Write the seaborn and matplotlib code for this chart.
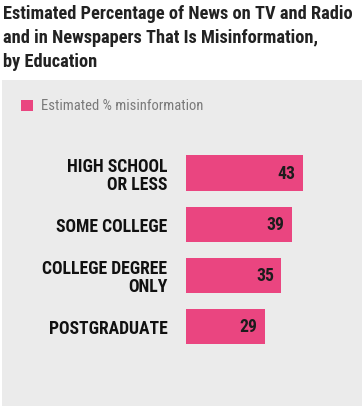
import matplotlib
matplotlib.use("Agg")
import matplotlib.pyplot as plt
import matplotlib.font_manager as fm
import seaborn as sns
import pandas as pd
from matplotlib.patches import Rectangle

# data
categories = ["HIGH SCHOOL\nOR LESS", "SOME COLLEGE", "COLLEGE DEGREE\nONLY", "POSTGRADUATE"]
misinfo_pct = [43, 39, 35, 29]
legend_label = "Estimated % misinformation"
title = "Estimated Percentage of News on TV and Radio\nand in Newspapers That Is Misinformation,\nby Education"

bar_color = "#ea4580"
panel_color = "#ebebeb"


def pick_font(cands):
    for c in cands:
        try:
            fm.findfont(fm.FontProperties(family=c), fallback_to_default=False)
            return c
        except Exception:
            pass
    return "DejaVu Sans"


main_font = pick_font(["Liberation Sans Narrow", "Roboto Condensed", "Open Sans Condensed",
                       "Roboto", "Liberation Sans"])

sns.set_theme(style="white")
plt.rcParams["font.family"] = [main_font, "DejaVu Sans"]

df = pd.DataFrame({"education": categories, "pct": misinfo_pct})

W, H = 364, 410
fig = plt.figure(figsize=(W / 100, H / 100), dpi=100)
fig.patch.set_facecolor("white")

# grey panel behind chart
fig.patches.append(Rectangle((2 / W, 1 - 407 / H), 360 / W, 326 / H,
                             transform=fig.transFigure, facecolor=panel_color,
                             edgecolor="none", zorder=-5))

# axes: x=0 at px 186, 2.71 px per unit
ax = fig.add_axes([186 / W, 1 - 353 / H, 162.6 / W, 204.5 / H])
ax.set_facecolor("none")

sns.barplot(data=df, x="pct", y="education", orient="h", color=bar_color,
            width=0.69, saturation=1, linewidth=0, ax=ax)
ax.set_xlim(0, 60)
ax.set_ylim(3.5, -0.5)

vals = []
for i, v in enumerate(misinfo_pct):
    t = ax.annotate(str(v), xy=(v, i), xytext=(-5, 0), textcoords="offset points",
                    ha="right", va="center", fontsize=12.5, fontweight="bold",
                    color="#1c1c1c")
    vals.append(t)

ax.set_xlabel("")
ax.set_ylabel("")
ax.set_xticks([])
ax.tick_params(axis="y", length=0, pad=13.5)
for lab in ax.get_yticklabels():
    lab.set_fontsize(12.5)
    lab.set_fontweight("bold")
    lab.set_color("#111111")
    lab.set_linespacing(1.0)
sns.despine(ax=ax, left=True, bottom=True)

# legend
fig.patches.append(Rectangle((21 / W, 1 - 112 / H), 12 / W, 11 / H,
                             transform=fig.transFigure, facecolor=bar_color,
                             edgecolor="none"))
leg = fig.text(41 / W, 1 - 106.5 / H, legend_label, ha="left", va="center",
               fontsize=9.5, color="#7a7a7a")

# title
ttl = fig.text(3 / W, 1 - 5 / H, title, ha="left", va="top", fontsize=12.5,
               fontweight="bold", color="#222222", linespacing=1.42)

# fit text widths to the reference (fonts here are wider than the original)
fig.canvas.draw()
r = fig.canvas.get_renderer()


def fit(txt, target, cap):
    w = txt.get_window_extent(r).width
    txt.set_fontsize(min(cap, txt.get_fontsize() * target / w))


fit(ttl, 350, 15)
fit(leg, 166, 10.5)
labs = ax.get_yticklabels()
w = max(l.get_window_extent(r).width for l in labs)
s = min(13.5, 12.5 * 125 / w)
for l in labs:
    l.set_fontsize(s)
for t in vals:
    t.set_fontsize(s)

fig.savefig("out.png", dpi=100, facecolor="white")
